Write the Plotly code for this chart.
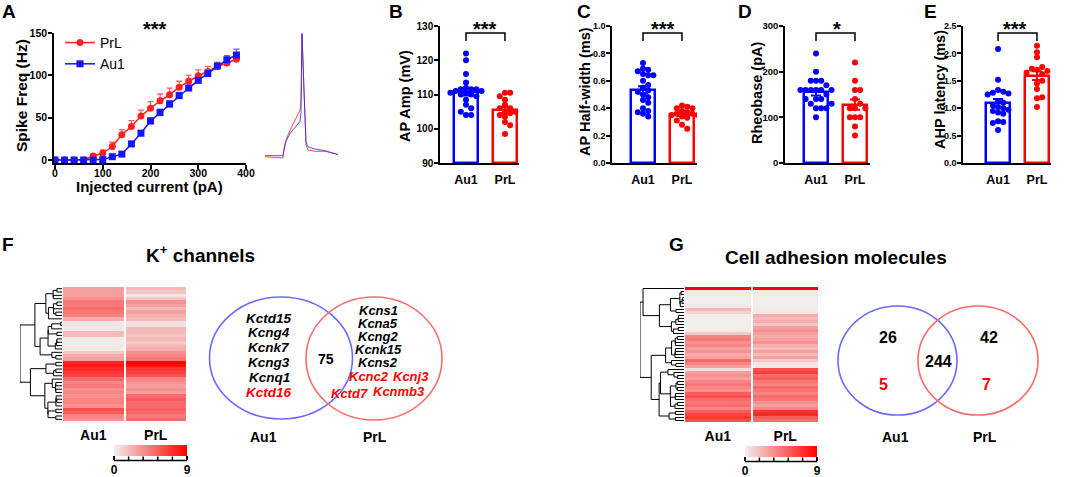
import numpy as np
import plotly.graph_objects as go

W, H = 1065, 477
FONT = "Arial, Liberation Sans, sans-serif"
BLUE = "#0000ff"
RED = "#ff0000"

# ---------------- Panel A data ----------------
current_pA = [0, 20, 40, 60, 80, 100, 120, 140, 160, 180, 200, 220, 240, 260, 280, 300, 320, 340, 360, 380]
prl_freq = [0, 0, 0, 0, 4.7, 8, 16, 30, 39.5, 52, 61, 70, 77, 86, 93, 99.5, 104.5, 110.5, 114.5, 119]
prl_sem = [0, 0, 0, 0, 2, 4, 5, 6, 7, 7, 8, 8, 8, 7, 7, 7, 6, 5, 5, 5]
au1_freq = [0, 0, 0, 0, 0, 0.5, 3.9, 7, 19, 31.6, 46, 56, 66, 76, 85, 94, 102, 111, 118.4, 124]
au1_sem = [0, 0, 0, 0, 0, 0.5, 1, 1.5, 3, 3.5, 4, 4, 4, 4, 3, 3, 3, 3, 5, 7]

# example action potential traces (inset)
trace_t_ms = [0, 7.2, 7.6, 8.4, 10, 12, 14, 14.4, 14.8, 15.6, 16.4, 17.2, 20, 24, 29.2]
trace_prl_mV = [-70, -71, -62, -55, -46, -37, -28, -19, 40, -11, -59, -64, -65, -65, -68]
trace_au1_mV = [-69, -69, -64, -56, -49, -44, -38, -30, 41.5, -10, -56.5, -61, -63, -64.5, -68]

# ---------------- Panels B-E data ----------------
groups = ["Au1", "PrL"]
ap_amp_au1 = [122, 120, 116, 113.5, 112, 111.5, 111.5, 111.5, 111, 111, 110.5, 110.5, 110, 110, 109.5, 108.5, 107, 106, 104, 104, 105]
ap_amp_prl = [110.5, 110.5, 109.5, 108.5, 107, 106, 106, 105, 105, 104.5, 104, 103.5, 102, 101, 98.5]
half_width_au1 = [0.73, 0.69, 0.68, 0.67, 0.65, 0.64, 0.64, 0.60, 0.57, 0.55, 0.53, 0.52, 0.50, 0.48, 0.46, 0.44, 0.40, 0.38, 0.37, 0.36, 0.34]
half_width_prl = [0.42, 0.41, 0.40, 0.40, 0.38, 0.37, 0.36, 0.36, 0.35, 0.35, 0.34, 0.33, 0.31, 0.28, 0.25]
rheobase_au1 = [240, 200, 180, 180, 180, 170, 160, 160, 160, 160, 160, 160, 150, 140, 140, 130, 120, 120, 120, 100, 140, 130]
rheobase_prl = [220, 180, 160, 160, 140, 130, 120, 120, 120, 100, 100, 100, 80, 60]
ahp_au1 = [2.08, 1.52, 1.33, 1.30, 1.28, 1.27, 1.25, 1.12, 1.10, 1.05, 1.02, 1.0, 0.97, 0.95, 0.92, 0.9, 0.76, 0.75, 0.73, 0.6]
ahp_prl = [2.14, 2.02, 1.93, 1.70, 1.62, 1.75, 1.72, 1.68, 1.65, 1.45, 1.50, 1.35, 1.18, 1.02, 1.2]

# ---------------- Panel F heatmap (K+ channels) ----------------
k_au1 = [3, 3, 3, 3.5, 4.5, 4.5, 5, 4.5, 4, 2.5, 0.3, 0.3, 0.3, 2, 2, 0.2, 0.2, 0.2, 0.2, 1.5,
         2.5, 3, 7.5, 8, 7.5, 7, 6.5, 5, 4, 4.5, 3.5, 4, 3.5, 4, 4, 3.5, 6, 5.5, 4, 3.5]
k_prl = [2, 1.5, 0.3, 1.5, 3.5, 3, 2, 3, 2.5, 2, 0.5, 0.5, 2, 2, 1.5, 2, 1.5, 2, 2.5, 3.5,
         4, 4.5, 9, 8.5, 7, 6.5, 6, 4, 3.5, 3, 3.5, 3, 5, 5.5, 5, 5, 5.5, 5, 4.5, 5]
k_only_au1 = ["Kctd15", "Kcng4", "Kcnk7", "Kcng3", "Kcnq1"]
k_only_au1_red = ["Kctd16"]
k_only_prl = ["Kcns1", "Kcna5", "Kcng2", "Kcnk15", "Kcns2"]
k_only_prl_red = [["Kcnc2", "Kcnj3"], ["Kctd7", "Kcnmb3"]]
k_shared = 75

# ---------------- Panel G heatmap (cell adhesion molecules) ----------------
cam_au1 = [9, 0.2, 0.1, 0, 0, 0, 0.2, 2, 1, 0, 0, 0, 0, 0, 0.2, 1.5, 4, 4.5, 3.5, 4, 3, 3.5, 2.5,
           3, 5, 4, 3, 0.5, 3, 3.5, 3, 4, 4.5, 4, 3.5, 5.5, 6, 5, 4.5, 5, 4, 5.5, 6.5, 7, 6]
cam_prl = [9, 0.2, 0.1, 0, 0, 0, 0, 0.2, 0.3, 2.5, 2, 2.5, 1.5, 3, 3.5, 3, 2.5, 3, 3.5, 2.5, 2, 3, 2,
           3, 1.5, 0.5, 0.3, 6, 6.5, 5, 5.5, 4.5, 4, 5, 4.5, 4, 5, 4.5, 3.5, 3, 4, 7, 7.5, 5.5, 5]
cam_only_au1 = [26, 5]
cam_shared = 244
cam_only_prl = [42, 7]

color_key_ticks = [0, 1.8, 3.6, 5.4, 7.2, 9]
CSCALE = [[0, "#f2eeee"], [1, "#ff0000"]]


def fx(p):
    return p / W


def fy(p):
    return 1 - p / H


def dom_x(a, b):
    return [fx(a), fx(b)]


def dom_y(top, bottom):
    return [fy(bottom), fy(top)]


fig = go.Figure()
annotations = []
shapes = []


def bold(size, color="black"):
    return dict(family=FONT, size=size, color=color, weight="bold")


def text(x, y, s, size, color="black", angle=0, italic=False, weight="bold", xanchor="center"):
    if italic:
        s = "<i>" + s + "</i>"
    annotations.append(dict(x=fx(x), y=fy(y), xref="paper", yref="paper", text=s, showarrow=False,
                            font=dict(family=FONT, size=size, color=color, weight=weight),
                            textangle=angle, xanchor=xanchor, yanchor="middle"))


axis_line = dict(showline=True, linecolor="black", linewidth=1.5, showgrid=False, zeroline=False,
                 ticks="outside", ticklen=4, tickwidth=1.5, tickcolor="black")

# ---------------- Panel A ----------------
fig.add_trace(go.Scatter(x=current_pA, y=prl_freq, mode="lines+markers", name="PrL",
                         line=dict(color="#ff2020", width=1.5),
                         marker=dict(symbol="circle", size=7, color="#ff2020"),
                         error_y=dict(type="data", symmetric=False, array=prl_sem,
                                      arrayminus=[0] * len(prl_sem), color="#ff6060", thickness=1.3, width=3),
                         xaxis="x", yaxis="y"))
fig.add_trace(go.Scatter(x=current_pA, y=au1_freq, mode="lines+markers", name="Au1",
                         line=dict(color="#1515ff", width=1.5),
                         marker=dict(symbol="square", size=7, color="#1515ff"),
                         error_y=dict(type="data", symmetric=False, array=au1_sem,
                                      arrayminus=[0] * len(au1_sem), color="#6060ff", thickness=1.3, width=3),
                         xaxis="x", yaxis="y"))
fig.update_layout(
    xaxis=dict(domain=dom_x(54, 246), range=[-2.1, 400], tickvals=[0, 100, 200, 300, 400],
               tickfont=bold(10.5), anchor="y", ticklabelstandoff=-4, **axis_line),
    yaxis=dict(domain=dom_y(33, 163), range=[-3.5, 150], tickvals=[0, 50, 100, 150],
               tickfont=bold(10.5), anchor="x", ticklabelstandoff=-1, **axis_line),
)
text(149, 186, "Injected current (pA)", 15)
text(22, 96, "Spike Freq (Hz)", 15.5, angle=-90)
text(155, 29, "***", 20)

# inset traces
fig.add_trace(go.Scatter(x=trace_t_ms, y=trace_prl_mV, mode="lines", line=dict(color="rgba(255,40,40,0.85)", width=1),
                         showlegend=False, xaxis="x2", yaxis="y2"))
fig.add_trace(go.Scatter(x=trace_t_ms, y=trace_au1_mV, mode="lines", line=dict(color="rgba(40,40,255,0.8)", width=1),
                         showlegend=False, xaxis="x2", yaxis="y2"))
fig.update_layout(
    xaxis2=dict(domain=dom_x(265, 338), range=[0, 29.2], visible=False, anchor="y2"),
    yaxis2=dict(domain=dom_y(32.6, 159), range=[-72, 42], visible=False, anchor="x2"),
)


# ---------------- Panels B-E ----------------
def sem(v):
    v = np.asarray(v, dtype=float)
    return float(v.std(ddof=1) / np.sqrt(len(v)))


def swarm(vals, px_per_unit, unit_px=39.0):
    placed, offs = [], []
    for v in vals:
        yp = v * px_per_unit
        for k in [0, 1, -1, 2, -2, 3, -3, 4, -4, 5, -5]:
            xo = k * 5.2
            if all((xo - a) ** 2 + (yp - b) ** 2 >= 4.8 ** 2 for a, b in placed):
                break
        placed.append((xo, yp))
        offs.append(xo / unit_px)
    return offs


panels = [
    (3, ap_amp_au1, ap_amp_prl, [90, 130], [90, 100, 110, 120, 130], (440, 519), [-0.667, 1.36],
     "AP Amp (mV)", 405, 96, "***", 485, 10),
    (4, half_width_au1, half_width_prl, [0, 1.0], [0, 0.2, 0.4, 0.6, 0.8, 1.0], (612, 697), [-0.795, 1.385],
     "AP Half-width (ms)", 585, 92, "***", 663, 9),
    (5, rheobase_au1, rheobase_prl, [0, 300], [0, 100, 200, 300], (785, 870), [-0.795, 1.385],
     "Rheobase (pA)", 757, 93, "*", 837, 9.5),
    (6, ahp_au1, ahp_prl, [0, 2.5], [0, 0.5, 1.0, 1.5, 2.0, 2.5], (963, 1051), [-0.9, 1.36],
     "AHP latency (ms)", 940, 90, "***", 1015, 9),
]
tickfmt = {3: None, 4: ".1f", 5: None, 6: ".1f"}
for (n, d_au1, d_prl, yr, ytv, xpx, xr, title, tx, ty, stars, sx, tfs) in panels:
    xa, ya = f"x{n}", f"y{n}"
    ppu = 137.0 / (yr[1] - yr[0])
    for gi, (vals, col) in enumerate([(d_au1, BLUE), (d_prl, RED)]):
        m = float(np.mean(vals))
        fig.add_trace(go.Bar(x=[gi], y=[m - yr[0]], base=yr[0], width=0.615,
                             marker=dict(color="white", line=dict(color=col, width=2.5)),
                             error_y=dict(type="data", array=[sem(vals)], color=col, thickness=2, width=5),
                             showlegend=False, xaxis=xa, yaxis=ya))
        offs = swarm([v - yr[0] for v in vals], ppu)
        fig.add_trace(go.Scatter(x=[gi + o for o in offs], y=vals, mode="markers",
                                 marker=dict(size=6, color=col), showlegend=False, xaxis=xa, yaxis=ya))
    fmt = tickfmt[n]
    yax = dict(domain=dom_y(26, 163), range=yr, tickvals=ytv, tickfont=bold(tfs), anchor=xa,
               ticklabelstandoff=-1, **axis_line)
    if fmt:
        yax["tickformat"] = fmt
    xax = dict(domain=dom_x(*xpx), range=xr, tickvals=[0, 1], ticktext=groups, tickfont=bold(12.5),
               anchor=ya, showline=True, linecolor="black", linewidth=1.5, showgrid=False, zeroline=False,
               ticks="", ticklabelstandoff=4)
    fig.update_layout(**{f"xaxis{n}": xax, f"yaxis{n}": yax})
    text(tx, ty, title, 14.5, angle=-90)
    text(sx, 29, stars, 20)
    shapes.append(dict(type="path", xref=xa, yref="paper",
                       path=f"M 0,{fy(41)} L 0,{fy(33)} L 1,{fy(33)} L 1,{fy(41)}",
                       line=dict(color="black", width=1.5)))


# ---------------- Heatmaps + dendrograms ----------------
def adjacent_dendrogram(mat):
    mat = np.asarray(mat, dtype=float)
    clusters = [dict(c=mat[i].copy(), n=1, y=float(i), h=0.0) for i in range(len(mat))]
    xs, ys = [], []
    while len(clusters) > 1:
        best, bk = None, 0
        for k in range(len(clusters) - 1):
            a, b = clusters[k], clusters[k + 1]
            d = np.sqrt(2 * a["n"] * b["n"] / (a["n"] + b["n"])) * np.linalg.norm(a["c"] - b["c"])
            if best is None or d < best:
                best, bk = d, k
        a, b = clusters[bk], clusters[bk + 1]
        h = max(best, a["h"], b["h"]) + 0.05
        xs += [a["h"], h, h, b["h"], None]
        ys += [a["y"], a["y"], b["y"], b["y"], None]
        nn = a["n"] + b["n"]
        clusters[bk:bk + 2] = [dict(c=(a["c"] * a["n"] + b["c"] * b["n"]) / nn, n=nn,
                                    y=(a["y"] + b["y"]) / 2, h=h)]
    root = clusters[0]["h"]
    xs = [None if v is None else v ** 0.6 for v in xs]
    return xs, ys, root ** 0.6


def add_heat(hx, dx, hy, col_au1, col_prl, xdom, ddom, ydom, cbx, cby):
    z = np.column_stack([col_au1, col_prl])
    nrow = len(col_au1)
    fig.add_trace(go.Heatmap(z=z, x=[0, 1], y=list(range(nrow)), colorscale=CSCALE, zmin=0, zmax=9,
                             xgap=2, xaxis=hx, yaxis=hy,
                             colorbar=dict(orientation="h", x=fx(cbx[0]), xanchor="left", y=fy(cby), yanchor="top",
                                           len=cbx[1] - cbx[0], lenmode="pixels", thickness=11,
                                           thicknessmode="pixels", outlinewidth=0, xpad=0, ypad=0,
                                           tickvals=[color_key_ticks[0], color_key_ticks[-1]],
                                           ticks="outside", ticklen=4, tickwidth=1.5, tickcolor="black",
                                           tickfont=bold(12))))
    xs, ys, root = adjacent_dendrogram(z)
    fig.add_trace(go.Scatter(x=xs, y=ys, mode="lines", line=dict(color="black", width=1),
                             showlegend=False, xaxis=dx, yaxis=hy, hoverinfo="skip"))
    n_h = hx[1:]
    n_d = dx[1:]
    fig.update_layout(**{
        f"xaxis{n_h}": dict(domain=dom_x(*xdom), range=[-0.5, 1.5], tickvals=[0, 1], ticktext=groups,
                            tickfont=bold(14), anchor=hy, showline=False, showgrid=False, zeroline=False,
                            ticks="", ticklabelstandoff=4),
        f"yaxis{n_h}": dict(domain=dom_y(*ydom), range=[nrow - 0.5, -0.5], visible=False, anchor=hx),
        f"xaxis{n_d}": dict(domain=dom_x(*ddom), range=[root, 0], visible=False, anchor=hy),
    })
    # colour-key axis line with minor tick marks
    base = cby + 15.5
    path = f"M {fx(cbx[0])},{fy(base)} L {fx(cbx[1])},{fy(base)}"
    for t in color_key_ticks[1:-1]:
        px = cbx[0] + (cbx[1] - cbx[0]) * t / 9.0
        path += f" M {fx(px)},{fy(base)} L {fx(px)},{fy(base - 4)}"
    shapes.append(dict(type="path", xref="paper", yref="paper", path=path,
                       line=dict(color="black", width=1.5)))


add_heat("x7", "x8", "y7", k_au1, k_prl, (62, 187), (20, 62), (287, 421), (114, 187), 445)
add_heat("x9", "x10", "y9", cam_au1, cam_prl, (684, 819), (640, 684), (287, 422), (745, 817), 446)

# ---------------- Titles / Venn diagrams ----------------
text(200, 254, "K<sup>+</sup> channels", 19)
text(836, 257, "Cell adhesion molecules", 19)


def ellipse(x0, x1, y0, y1, col):
    shapes.append(dict(type="circle", xref="paper", yref="paper", x0=fx(x0), x1=fx(x1), y0=fy(y1), y1=fy(y0),
                       line=dict(color=col, width=1.6)))


ellipse(209.5, 352.5, 297, 419, "#6b6bff")
ellipse(306, 442, 297, 420, "#ff6b6b")
ellipse(838, 957, 306, 415, "#6b6bff")
ellipse(918, 1038, 306, 415, "#ff6b6b")

for i, g in enumerate(k_only_au1 + k_only_au1_red):
    text(269, 318 + 14.8 * i, g, 13.5, color=RED if g in k_only_au1_red else "black", italic=True)
text(326, 359, str(k_shared), 14)
for i, g in enumerate(k_only_prl):
    text(378, 310 + 13.2 * i, g, 13, italic=True)
text(369, 376, k_only_prl_red[0][0], 13, color=RED, italic=True)
text(411, 376, k_only_prl_red[0][1], 13, color=RED, italic=True)
text(349, 393, k_only_prl_red[1][0], 13, color=RED, italic=True)
text(399, 391, k_only_prl_red[1][1], 13, color=RED, italic=True)
text(263, 437, "Au1", 14)
text(375, 437, "PrL", 14)

text(888, 337, str(cam_only_au1[0]), 16)
text(883, 384, str(cam_only_au1[1]), 16, color=RED)
text(938, 361, str(cam_shared), 16)
text(989, 337, str(cam_only_prl[0]), 16)
text(986, 384, str(cam_only_prl[1]), 16, color=RED)
text(895, 437, "Au1", 14)
text(985, 437, "PrL", 14)

for L, x, y in [("A", 8.5, 12), ("B", 396, 12), ("C", 584, 12), ("D", 745, 12), ("E", 930, 12),
                ("F", 7.5, 245), ("G", 676, 245)]:
    text(x, y, L, 19)

fig.update_layout(
    width=W, height=H, autosize=False, margin=dict(l=0, r=0, t=0, b=0, pad=0, autoexpand=False),
    paper_bgcolor="white", plot_bgcolor="white",
    font=dict(family=FONT, color="black"),
    showlegend=True,
    legend=dict(x=fx(60), y=fy(27), xanchor="left", yanchor="top", bgcolor="rgba(0,0,0,0)",
                font=dict(family=FONT, size=14, color="black"), itemwidth=30, tracegroupgap=0),
    annotations=annotations, shapes=shapes,
    bargap=0,
)
fig.write_html("out.html", config={"displayModeBar": False},
               post_script="document.body.style.margin='0';document.body.style.overflow='hidden';")
